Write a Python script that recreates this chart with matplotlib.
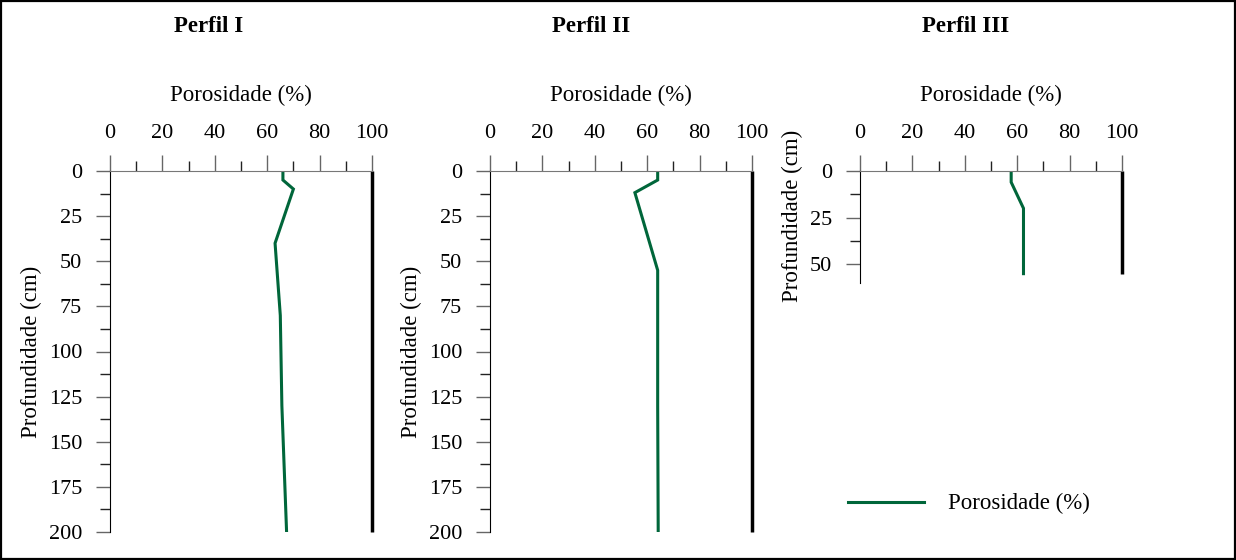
import matplotlib.pyplot as plt
from matplotlib.ticker import MultipleLocator
from matplotlib.lines import Line2D
from matplotlib.patches import Rectangle

plt.rcParams['font.family'] = ['Liberation Serif', 'DejaVu Serif']

# profundidade (cm) e porosidade (%) por perfil
prof1 = [0, 5, 10, 40, 80, 130, 200]
por1 = [66, 66, 70, 63, 65, 65.6, 67.4]
prof2 = [0, 5, 12, 55, 130, 200]
por2 = [64, 64, 55.3, 64, 64, 64.2]
prof3 = [0, 6, 20, 55]
por3 = [57.7, 57.7, 62.4, 62.4]

titulos = ['Perfil I', 'Perfil II', 'Perfil III']
verde = '#00663a'

fig = plt.figure(figsize=(12.36, 5.6), dpi=100)
W, H = 1236, 560

# posicoes em pixels: esquerda, topo, base
caixas = [(110, 171, 532), (490, 171, 532), (860, 171, 283)]
ylims = [200, 200, 60]
dados = [(prof1, por1), (prof2, por2), (prof3, por3)]
label_pos = [(-0.26, 0.5), (-0.26, 0.5), (-0.218, 0.6)]

for i, (l, t, b) in enumerate(caixas):
    ax = fig.add_axes([l / W, 1 - b / H, 262 / W, (b - t) / H])
    prof, por = dados[i]
    ax.plot(por, prof, color=verde, lw=2.2, solid_joinstyle='miter')
    ax.plot([100, 100], [0, max(prof)], color='black', lw=2.5, clip_on=False,
            solid_capstyle='butt')
    ax.set_xlim(0, 100)
    ax.set_ylim(ylims[i], 0)
    ax.xaxis.tick_top()
    ax.xaxis.set_label_position('top')
    ax.xaxis.set_major_locator(MultipleLocator(20))
    ax.xaxis.set_minor_locator(MultipleLocator(10))
    ax.yaxis.set_major_locator(MultipleLocator(25))
    ax.yaxis.set_minor_locator(MultipleLocator(12.5))
    ax.tick_params(axis='x', which='major', length=11.5, width=1, color='#666666',
                   direction='out', pad=9, labelsize=16)
    ax.tick_params(axis='x', which='minor', length=7, width=1, color='#222222',
                   direction='out')
    ax.tick_params(axis='y', which='major', length=10, width=1, color='#666666',
                   direction='out', pad=10, labelsize=16)
    ax.tick_params(axis='y', which='minor', length=7, width=1, color='#222222',
                   direction='out')
    for s in ['right', 'bottom']:
        ax.spines[s].set_visible(False)
    ax.spines['top'].set_color('#777777')
    ax.spines['left'].set_color('black')
    ax.set_xlabel('Porosidade (%)', fontsize=16.5, labelpad=16)
    ax.set_ylabel('Profundidade (cm)', fontsize=16.5)
    ax.yaxis.set_label_coords(*label_pos[i])

fig.text(209 / W, 1 - 26 / H, titulos[0], fontsize=16.5, fontweight='bold', ha='center', va='center')
fig.text(591 / W, 1 - 26 / H, titulos[1], fontsize=16.5, fontweight='bold', ha='center', va='center')
fig.text(966 / W, 1 - 26 / H, titulos[2], fontsize=16.5, fontweight='bold', ha='center', va='center')

# legenda
fig.add_artist(Line2D([848 / W, 924 / W], [1 - 502 / H, 1 - 502 / H], color=verde, lw=2.2))
fig.text(948 / W, 1 - 503 / H, 'Porosidade (%)', fontsize=16.5, va='center')

fig.add_artist(Rectangle((0.001, 0.002), 0.998, 0.996, transform=fig.transFigure,
                         fill=False, edgecolor='black', lw=1.6))

fig.savefig('out.png', dpi=100)
